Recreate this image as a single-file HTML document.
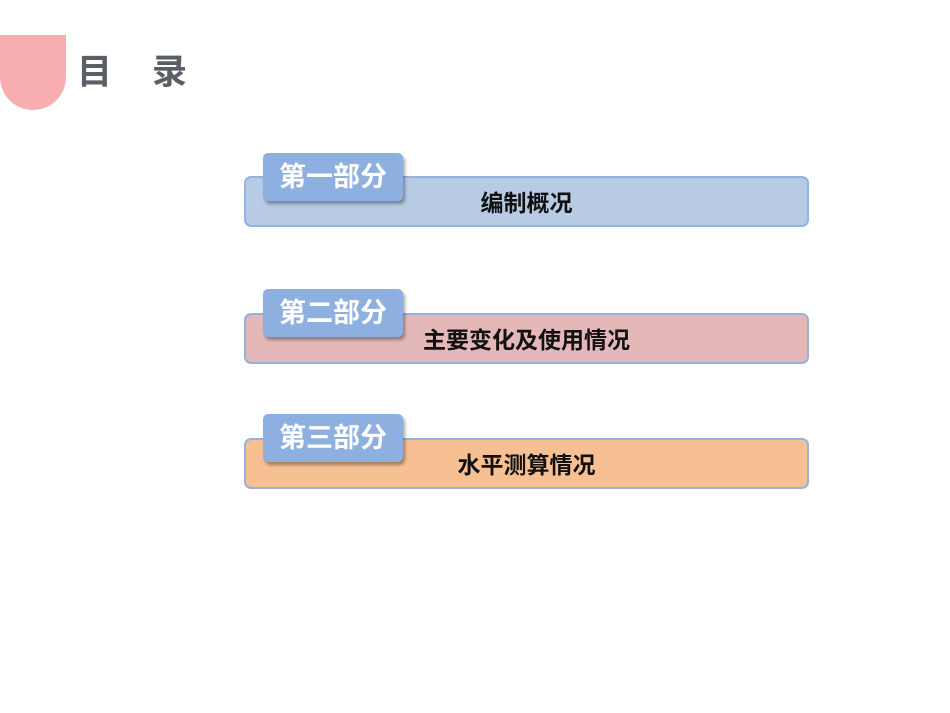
<!DOCTYPE html>
<html><head><meta charset="utf-8"><style>
body{margin:0;width:950px;height:713px;background:#fff;position:relative;overflow:hidden;font-family:"Liberation Sans","Noto Sans CJK SC",sans-serif}
.pk{position:absolute;left:0;top:35px;width:66px;height:75px;background:#f8aeb0;border-radius:0 0 33px 33px}
.t{position:absolute;top:53px;font-size:35px;font-weight:bold;color:#5a5f66;line-height:40px}
.bar{position:absolute;left:244px;width:561px;height:47px;border:2px solid #95b3dc;border-radius:7px}
.lab{position:absolute;left:263px;width:140px;height:48px;background:#8eb0e0;border-radius:5px;box-shadow:2px 3px 3px rgba(0,0,0,.35);color:#fff;font-weight:bold;font-size:27px;line-height:48px;text-align:center}
.txt{position:absolute;left:244px;width:565px;text-align:center;font-weight:bold;font-size:23px;line-height:26px;color:#111}
</style></head><body>
<div class="pk"></div>
<div class="t" style="left:77px">目</div>
<div class="t" style="left:152px">录</div>
<div class="bar" style="top:176px;background:#b7cbe4"></div>
<div class="lab" style="top:153px">第一部分</div>
<div class="txt" style="top:190px">编制概况</div>
<div class="bar" style="top:313px;background:#e4b8b8"></div>
<div class="lab" style="top:289px">第二部分</div>
<div class="txt" style="top:327px">主要变化及使用情况</div>
<div class="bar" style="top:438px;background:#f7c093"></div>
<div class="lab" style="top:414px">第三部分</div>
<div class="txt" style="top:452px">水平测算情况</div>
</body></html>
